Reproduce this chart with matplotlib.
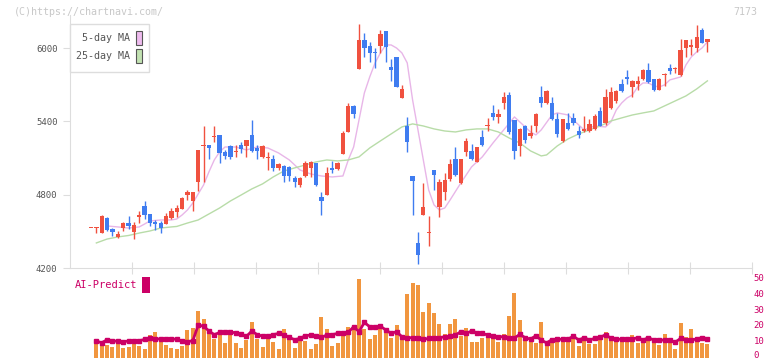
import matplotlib
matplotlib.use('Agg')
import matplotlib.pyplot as plt
from matplotlib.patches import Rectangle
from matplotlib import transforms
import numpy as np

# daily candles, 2025/1/6 .. 2025/6/25 (index 0..115)
opens = [4525, 4530, 4489, 4612, 4522, 4454, 4530, 4568, 4497, 4620,
         4707, 4642, 4577, 4566, 4560, 4607, 4661, 4685, 4800, 4748,
         4906, 5200, 5207, 5270, 5291, 5152, 5199, 5150, 5205, 5201,
         5289, 5185, 5111, 5100, 5090, 5019, 5035, 5029, 4934, 4879,
         4953, 5021, 5057, 4784, 4798, 5016, 5010, 5133, 5316, 5526,
         5831, 6066, 6017, 5968, 6017, 6140, 5848, 5925, 5594, 5362,
         4953, 4402, 4634, 4485, 5002, 4702, 4825, 4926, 5092, 4893,
         5152, 5158, 5070, 5270, 5365, 5471, 5433, 5553, 5616, 5411,
         5199, 5365, 5280, 5365, 5602, 5553, 5553, 5417, 5242, 5389,
         5430, 5324, 5321, 5324, 5338, 5485, 5389, 5512, 5567, 5703,
         5755, 5684, 5703, 5747, 5821, 5747, 5657, 5782, 5834, 5830,
         5780, 5998, 6006, 5998, 6148, 6052]
highs = [4530, 4533, 4630, 4615, 4525, 4503, 4574, 4625, 4576, 4667,
         4751, 4645, 4593, 4585, 4653, 4694, 4716, 4781, 4838, 4822,
         5166, 5362, 5207, 5362, 5291, 5166, 5205, 5207, 5234, 5250,
         5411, 5207, 5205, 5152, 5125, 5062, 5040, 5035, 4953, 4947,
         5076, 5075, 5060, 4820, 5029, 5078, 5070, 5321, 5553, 5534,
         6197, 6121, 6052, 5998, 6148, 6142, 5908, 5925, 5698, 5438,
         4955, 4497, 4898, 4626, 5005, 4926, 4975, 5092, 5188, 5095,
         5262, 5212, 5190, 5330, 5425, 5534, 5501, 5638, 5638, 5411,
         5343, 5370, 5370, 5471, 5690, 5657, 5597, 5471, 5420, 5471,
         5471, 5362, 5444, 5417, 5460, 5515, 5665, 5684, 5657, 5747,
         5823, 5735, 5771, 5829, 5876, 5750, 5758, 5795, 5867, 5848,
         6072, 6066, 6072, 6189, 6162, 6074]
lows = [4525, 4487, 4485, 4505, 4462, 4443, 4503, 4517, 4440, 4566,
        4599, 4544, 4511, 4489, 4558, 4601, 4620, 4680, 4757, 4667,
        4833, 4906, 5095, 5234, 5057, 5090, 5090, 5111, 5139, 5107,
        5150, 5090, 5103, 5002, 4996, 5002, 4906, 4915, 4865, 4865,
        4942, 4942, 4875, 4634, 4795, 4980, 5002, 5130, 5310, 5425,
        5830, 5929, 5889, 5839, 5957, 5889, 5731, 5684, 5594, 5152,
        4634, 4233, 4630, 4380, 4838, 4620, 4757, 4915, 4953, 4888,
        5117, 5084, 5068, 5199, 5321, 5411, 5389, 5501, 5297, 5092,
        5117, 5226, 5262, 5316, 5520, 5542, 5411, 5275, 5234, 5330,
        5370, 5266, 5316, 5316, 5330, 5362, 5370, 5501, 5548, 5643,
        5703, 5602, 5657, 5739, 5717, 5649, 5655, 5692, 5788, 5794,
        5774, 5929, 5943, 5970, 6039, 5970]
closes = [4530, 4533, 4625, 4509, 4497, 4478, 4566, 4546, 4552, 4634,
          4634, 4571, 4563, 4525, 4626, 4669, 4694, 4773, 4822, 4822,
          5166, 5207, 5185, 5283, 5144, 5119, 5111, 5158, 5177, 5248,
          5160, 5158, 5199, 5103, 5016, 5051, 4953, 4953, 4906, 4934,
          5062, 5070, 4879, 4751, 4975, 5002, 5062, 5308, 5526, 5458,
          6066, 6003, 5957, 5962, 6115, 6011, 5821, 5684, 5665, 5234,
          4912, 4306, 4697, 4489, 4961, 4906, 4920, 5051, 4961, 5092,
          5240, 5092, 5188, 5207, 5370, 5433, 5460, 5602, 5316, 5160,
          5338, 5248, 5308, 5460, 5553, 5649, 5417, 5294, 5417, 5340,
          5389, 5291, 5338, 5378, 5444, 5365, 5602, 5638, 5649, 5651,
          5750, 5731, 5731, 5821, 5725, 5657, 5747, 5787, 5815, 5834,
          5984, 6066, 6025, 6093, 6044, 6074]

# moving averages (candle index, price)
ma5_idx = [3, 5, 7, 9, 10, 11, 13, 15, 16, 17, 18, 19, 20, 21, 22, 23, 24, 25, 27, 29,
           31, 33, 35, 37, 39, 41, 43, 45, 47, 48, 49, 50, 51, 52, 53, 54, 55, 56, 57, 58,
           59, 60, 61, 62, 63, 64, 65, 66, 67, 69, 71, 73, 75, 77, 79, 80, 82, 83, 84, 86,
           87, 89, 91, 92, 93, 94, 96, 97, 98, 99, 100, 101, 102, 103, 104, 105, 106, 107,
           108, 110, 111, 112, 113, 114, 115]
ma5_val = [4544, 4536, 4527, 4536, 4560, 4585, 4593, 4593, 4601, 4634, 4675, 4732, 4806,
           4879, 4986, 5084, 5150, 5190, 5190, 5166, 5190, 5182, 5141, 5084, 5002, 4969,
           4953, 4945, 4953, 5084, 5190, 5411, 5632, 5763, 5878, 5960, 6025, 6025, 6000,
           5960, 5878, 5575, 5330, 5084, 4838, 4716, 4675, 4691, 4757, 4896, 5027, 5109,
           5223, 5330, 5436, 5395, 5313, 5289, 5330, 5452, 5469, 5452, 5370, 5330, 5346,
           5362, 5354, 5395, 5493, 5550, 5591, 5616, 5681, 5714, 5714, 5690, 5681, 5698,
           5739, 5763, 5862, 5927, 5968, 6000, 6050]
ma25_idx = [1, 3, 5, 7, 9, 11, 13, 15, 16, 18, 20, 22, 24, 26, 28, 30, 32, 34, 36, 38,
            40, 42, 44, 46, 48, 50, 52, 54, 56, 58, 60, 62, 64, 66, 68, 70, 72, 74, 76, 78,
            80, 82, 84, 85, 87, 89, 91, 93, 95, 97, 99, 101, 103, 105, 107, 109, 111, 113, 115]
ma25_val = [4405, 4437, 4454, 4466, 4486, 4503, 4527, 4536, 4540, 4568, 4593, 4642, 4691,
            4748, 4797, 4847, 4888, 4945, 4994, 5019, 5043, 5068, 5084, 5076, 5084, 5109,
            5182, 5240, 5297, 5354, 5379, 5362, 5338, 5321, 5313, 5330, 5338, 5338, 5313,
            5264, 5223, 5158, 5117, 5125, 5199, 5256, 5297, 5330, 5362, 5403, 5428, 5452,
            5469, 5485, 5526, 5567, 5608, 5665, 5731]

# lower panel (index 1..115)
volume = [9.4, 8.2, 7.8, 6.7, 10.3, 6.3, 6.7, 8.6, 7.1, 5.5,
          14.0, 16.1, 11.9, 7.8, 6.1, 5.7, 7.3, 17.4, 18.7, 29.4,
          24.3, 15.3, 11.5, 17.4, 9.2, 16.1, 9.0, 6.1, 11.1, 22.4,
          11.9, 6.7, 12.8, 9.6, 5.5, 17.8, 11.7, 6.1, 11.7, 10.7,
          5.7, 8.8, 25.6, 18.0, 7.3, 9.4, 16.1, 19.5, 19.3, 49.5,
          17.8, 11.7, 14.3, 20.1, 16.8, 12.4, 20.5, 12.4, 40.0, 47.0,
          45.7, 28.7, 34.4, 27.9, 21.2, 14.7, 21.2, 24.1, 13.8, 18.7,
          10.1, 10.1, 12.4, 12.8, 12.6, 9.9, 14.9, 26.2, 40.7, 23.7,
          12.8, 11.1, 9.4, 22.6, 8.6, 10.0, 13.2, 12.8, 10.6, 14.2,
          7.2, 11.3, 8.6, 8.6, 11.1, 16.4, 13.6, 11.1, 10.6, 10.0,
          14.2, 9.4, 11.1, 12.2, 10.0, 7.9, 14.9, 9.4, 5.5, 22.0,
          13.0, 18.0, 12.4, 9.4, 8.6]
ai_predict = [10.5, 9.4, 11.3, 10.7, 10.3, 10.1, 10.5, 10.7, 10.7, 11.5,
              12.6, 11.9, 11.7, 11.7, 12.0, 11.5, 10.5, 10.1, 10.7, 20.5,
              19.9, 16.8, 14.5, 15.9, 16.1, 16.1, 15.7, 14.9, 13.4, 16.8,
              14.5, 13.6, 13.6, 14.5, 15.3, 14.3, 12.8, 11.3, 12.2, 13.8,
              14.3, 13.4, 12.8, 14.3, 14.5, 15.3, 15.7, 16.0, 19.5, 16.4,
              22.2, 19.5, 19.1, 19.9, 17.4, 15.3, 16.4, 13.2, 12.6, 12.6,
              12.6, 11.5, 12.2, 12.4, 12.6, 13.2, 13.6, 14.3, 16.4, 15.3,
              16.8, 15.7, 15.3, 14.3, 13.4, 13.2, 13.2, 12.6, 12.4, 14.7,
              12.6, 11.7, 13.8, 11.1, 9.3, 11.4, 11.6, 11.6, 11.6, 13.6,
              11.1, 12.6, 11.1, 12.2, 12.8, 14.5, 12.2, 11.6, 11.6, 11.8,
              11.8, 12.6, 11.1, 12.6, 11.1, 11.1, 11.1, 11.1, 9.7, 12.2,
              11.1, 11.1, 11.8, 12.6, 12.0]

date_idx = [15, 25, 35, 45, 55, 65, 75, 85, 95, 105, 115]
date_labels = ['1/28', '2/12', '2/27', '3/13', '3/28', '4/11', '4/25',
               '5/14', '5/28', '6/11', '6/25']
price_ticks = [4200, 4800, 5400, 6000]
vol_ticks = [0, 10, 20, 30, 40, 50]

UP = '#f0513f'
DOWN = '#3f7cf0'
MONO = 'DejaVu Sans Mono'
W, H = 772, 361

fig = plt.figure(figsize=(W / 100, H / 100), dpi=100)

# pixel helpers
def fx(px):
    return px / W

def fy(py):
    return 1 - py / H

x0_px, x1_px = 70, 752
step = 5.36
first = 91
xlim = ((x0_px - first) / step, (x1_px - first) / step)

# ---- main price panel
top_px, bot_px = 15, 268
ax = fig.add_axes([fx(x0_px), fy(bot_px), fx(x1_px) - fx(x0_px), (bot_px - top_px) / H])
ax.set_xlim(*xlim)
ax.set_ylim(4200, 4200 + (bot_px - top_px) * 1800 / 220)

ax.plot(ma5_idx, ma5_val, color='#e8b6e8', lw=1.0, zorder=2)
ax.plot(ma25_idx, ma25_val, color='#b8dca8', lw=1.0, zorder=2)

idx = np.arange(len(opens))
o = np.array(opens)
c = np.array(closes)
colors = [UP if cc >= oo else DOWN for oo, cc in zip(o, c)]
ax.vlines(idx, lows, highs, colors=colors, lw=1.0, zorder=3)
body = np.maximum(np.abs(c - o), 9)
ax.bar(idx, body, bottom=np.minimum(o, c), width=0.8, color=colors, lw=0, zorder=4)

for s in ['top', 'right']:
    ax.spines[s].set_visible(False)
for s in ['left', 'bottom']:
    ax.spines[s].set_color('#dddddd')
ax.set_yticks(price_ticks)
ax.set_yticklabels([str(v) for v in price_ticks], fontfamily=MONO, fontsize=6.5, color='#555555')
ax.tick_params(axis='y', length=5, color='#dddddd', pad=4)
xt = np.linspace(xlim[0], xlim[1], 12)[1:]
ax.set_xticks(xt)
ax.set_xticklabels([])
ax.tick_params(axis='x', direction='inout', length=8, color='#dddddd')

trans = transforms.blended_transform_factory(ax.transData, ax.transAxes)
for i, lab in zip(date_idx, date_labels):
    ax.text(i, -(282 - bot_px) / (bot_px - top_px), lab, transform=trans, ha='center', va='center',
            fontfamily=MONO, fontsize=6.5, color='#555555', clip_on=False)

# ---- lower panel
vb, vt = 357.7, 278.3
ax2 = fig.add_axes([fx(x0_px), fy(vb), fx(x1_px) - fx(x0_px), (vb - vt) / H])
ax2.set_xlim(*xlim)
ax2.set_ylim(0, 50)
vidx = np.arange(1, len(volume) + 1)
ax2.bar(vidx, volume, width=0.75, color='#f1963f', lw=0)
ax2.plot(vidx, ai_predict, color='#cc0066', lw=2.0, marker='s', ms=2.2)
for s in ax2.spines.values():
    s.set_visible(False)
ax2.set_xticks([])
ax2.set_yticks([])

# right-hand scale, drawn as text so the bottom "0" stays inside the image
rtrans = transforms.blended_transform_factory(ax2.transAxes, ax2.transData)
for v in vol_ticks:
    yv = max(v, 1.4)
    ax2.text(1.002, yv, str(v), transform=rtrans, ha='left', va='center',
             fontfamily=MONO, fontsize=6.5, color='#cc0066', clip_on=False)

# ---- texts and legend
fig.text(fx(14), fy(12), '(C)https://chartnavi.com/', fontfamily=MONO, fontsize=7.2,
         color='#c8c8c8', va='center')
fig.text(fx(757), fy(12), '7173', fontfamily=MONO, fontsize=7.2, color='#c8c8c8',
         va='center', ha='right')
fig.text(fx(75), fy(285), 'AI-Predict', fontfamily=MONO, fontsize=7.5, color='#cc0066', va='center')
fig.add_artist(Rectangle((fx(142), fy(293)), fx(8), 16 / H, transform=fig.transFigure,
                         facecolor='#cc0066', edgecolor='none'))

fig.add_artist(Rectangle((fx(70), fy(72)), fx(79), 48 / H, transform=fig.transFigure,
                         facecolor='white', edgecolor='#dddddd', lw=1, zorder=5))
legend_rows = [('5-day MA', '#eebbee', 38), ('25-day MA', '#c2e2b2', 56)]
for lab, col, yy in legend_rows:
    fig.text(fx(130), fy(yy), lab, fontfamily=MONO, fontsize=7.2, color='#555555',
             ha='right', va='center', zorder=6)
    fig.add_artist(Rectangle((fx(136), fy(yy + 7)), fx(6), 14 / H, transform=fig.transFigure,
                             facecolor=col, edgecolor='#555555', lw=0.8, zorder=6))

fig.savefig('out.png', dpi=100)
